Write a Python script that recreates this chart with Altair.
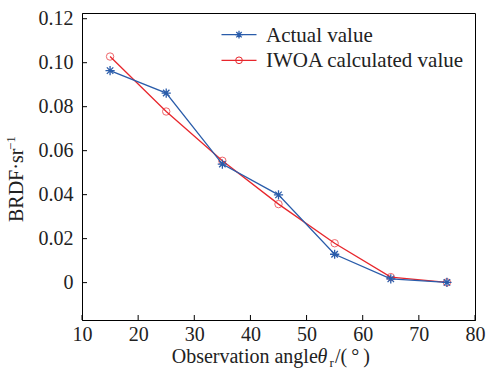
import altair as alt
import pandas as pd

angles = [15, 25, 35, 45, 55, 65, 75]
actual = [0.0964, 0.0862, 0.0539, 0.0399, 0.0129, 0.0017, 0.0001]
iwoa = [0.1028, 0.0778, 0.0554, 0.0357, 0.0179, 0.0025, 0.0001]
series_names = ["Actual value", "IWOA calculated value"]
colors = ["#2a5caa", "#e8262c"]
x_ticks = [10, 20, 30, 40, 50, 60, 70, 80]
y_ticks = [0, 0.02, 0.04, 0.06, 0.08, 0.10, 0.12]

W, H = 393, 307
FONT = "Liberation Serif"
ASTER = "M-1,0H1M0,-1V1M-0.7,-0.7L0.7,0.7M-0.7,0.7L0.7,-0.7"

df_a = pd.DataFrame({"angle": angles, "v": actual})
df_i = pd.DataFrame({"angle": angles, "v": iwoa})

xs = alt.Scale(domain=[10, 80], nice=False)
ys = alt.Scale(domain=[-0.017, 0.1226], nice=False)

xenc = alt.X("angle:Q", scale=xs, axis=alt.Axis(
    values=x_ticks, title=None, tickSize=0, labelFont=FONT, labelFontSize=20,
    labelColor="#222", labelPadding=4, labelFlush=False, grid=False, domainColor="black"))
yenc = alt.Y("v:Q", scale=ys, axis=alt.Axis(
    values=y_ticks, title=None, tickSize=0, labelFont=FONT, labelFontSize=20,
    labelColor="#222", labelPadding=9, labelFlush=False, grid=False, domainColor="black",
    labelExpr="datum.value == 0 ? '0' : format(datum.value, '.2f')"))

red_line = alt.Chart(df_i).mark_line(color=colors[1], strokeWidth=1.3).encode(x=xenc, y=yenc)
red_pts = alt.Chart(df_i).mark_point(shape="circle", size=55, filled=False,
                                      color=colors[1], strokeWidth=1).encode(x="angle:Q", y="v:Q")
blue_line = alt.Chart(df_a).mark_line(color=colors[0], strokeWidth=1.3).encode(x="angle:Q", y="v:Q")
blue_pts = alt.Chart(df_a).mark_point(shape=ASTER, size=85, filled=False,
                                       color=colors[0], strokeWidth=1.3, opacity=1).encode(x="angle:Q", y="v:Q")

# inward ticks
xt = alt.Chart(pd.DataFrame({"t": x_ticks})).mark_rule(color="black").encode(
    x=alt.X("t:Q", scale=xs), y=alt.value(H), y2=alt.value(H - 5))
yt = alt.Chart(pd.DataFrame({"t": y_ticks})).mark_rule(color="black").encode(
    y=alt.Y("t:Q", scale=ys), x=alt.value(0), x2=alt.value(5))

# legend
leg = []
for i, (name, col) in enumerate(zip(series_names, colors)):
    yy = 21.7 + i * 25.6
    base = alt.Chart(pd.DataFrame({"name": [name]}))
    leg.append(base.mark_rule(color=col, strokeWidth=1.3).encode(
        x=alt.value(139.5), x2=alt.value(174.5), y=alt.value(yy)))
    if i == 0:
        leg.append(base.mark_point(shape=ASTER, size=60, filled=False, color=col, strokeWidth=1.3,
                                   opacity=1).encode(x=alt.value(157), y=alt.value(yy)))
    else:
        leg.append(base.mark_point(shape="circle", size=45, filled=False, color=col, strokeWidth=1,
                                   opacity=1).encode(x=alt.value(157), y=alt.value(yy)))
    leg.append(base.mark_text(align="left", baseline="middle", font=FONT, fontSize=21, color="#222").encode(
        x=alt.value(184), y=alt.value(yy + 1), text="name:N"))

# axis titles
tdf = alt.Chart(pd.DataFrame({"a": [0]}))
xt1 = tdf.mark_text(align="left", baseline="alphabetic", font=FONT, fontSize=20, color="#222",
                    text="Observation angle").encode(x=alt.value(89.7), y=alt.value(350))
xt2 = tdf.mark_text(align="left", baseline="alphabetic", font=FONT, fontSize=20, color="#222",
                    fontStyle="italic", text="θ").encode(x=alt.value(235.5), y=alt.value(350))
xt3 = tdf.mark_text(align="left", baseline="alphabetic", font=FONT, fontSize=13, color="#222",
                    text="r").encode(x=alt.value(247.5), y=alt.value(354))
xt4 = tdf.mark_text(align="left", baseline="alphabetic", font=FONT, fontSize=20, color="#222",
                    text="/(\u2009°\u2009)").encode(x=alt.value(253), y=alt.value(350))
yt1 = tdf.mark_text(align="left", baseline="alphabetic", font=FONT, fontSize=20, color="#222",
                    angle=270, text="BRDF·sr").encode(x=alt.value(-59), y=alt.value(209))
yt2 = tdf.mark_text(align="left", baseline="alphabetic", font=FONT, fontSize=13, color="#222",
                    angle=270, text="−1").encode(x=alt.value(-67), y=alt.value(137))

chart = alt.layer(red_line, red_pts, blue_line, blue_pts, xt, yt, *leg,
                  xt1, xt2, xt3, xt4, yt1, yt2).properties(
    width=W, height=H,
    padding={"left": 82, "top": 13, "right": 11, "bottom": 56},
    autosize=alt.AutoSizeParams(type="none"),
    background="white",
).configure_view(stroke="black", strokeWidth=1)

chart.save("out.html", embed_options={"renderer": "svg", "actions": False})
